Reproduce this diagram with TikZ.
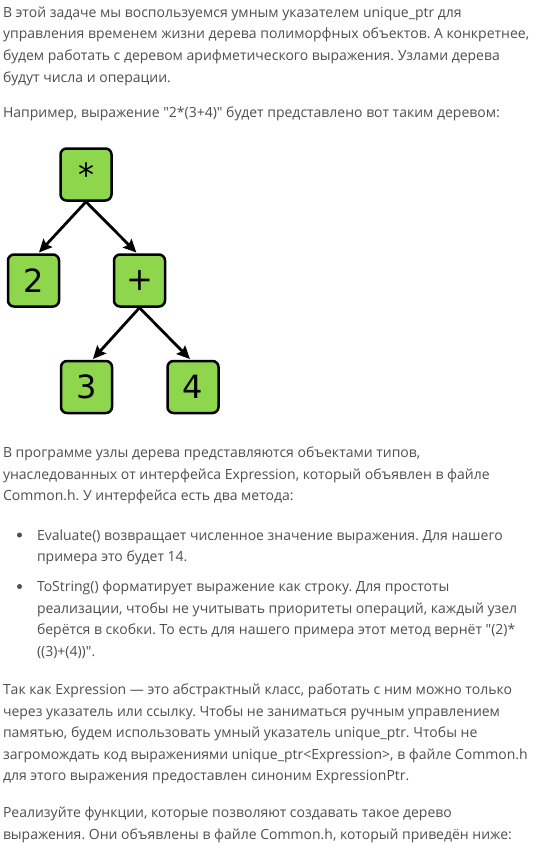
\documentclass[tikz,border=0pt]{standalone}
\usepackage{fontspec}
\setmainfont{Open Sans}[Ligatures=TeXOff]
\newfontfamily\boxfont{DejaVu Sans}
\usetikzlibrary{arrows.meta}
\definecolor{txt}{HTML}{4F4F4F}
\definecolor{leaf}{HTML}{8ED64B}
\frenchspacing
\tikzset{
  line/.style={anchor=base west, inner sep=0pt, outer sep=0pt, text=txt,
    font=\fontsize{14pt}{21.5pt}\selectfont\frenchspacing},
  treebox/.style={draw=black, line width=2.5pt, fill=leaf, rounded corners=6pt,
    minimum width=51pt, minimum height=52pt, inner sep=0pt,
    font=\boxfont\fontsize{32pt}{32pt}\selectfont, text=black},
  arr/.style={line width=2.8pt, -{Stealth[length=13pt,width=12pt,inset=2pt]}, shorten >=1pt},
  dot/.style={circle, fill=txt, inner sep=0pt, minimum size=5pt}
}
\begin{document}
\begin{tikzpicture}[x={(1pt,0)}, y={(0,-1pt)}]
\useasboundingbox (0,0) rectangle (540,851);
\fill[white] (0,0) rectangle (540,851);

% paragraph 1
\node[line] (p1a) at (3,17.5) {В этой задаче мы воспользуемся умным указателем unique\_ptr для};
\node[line] (p1b) at (3,39) {управления временем жизни дерева полиморфных объектов. А конкретнее,};
\node[line] (p1c) at (3,60.5) {будем работать с деревом арифметического выражения. Узлами дерева};
\node[line] (p1d) at (3,82) {будут числа и операции.};
% paragraph 2
\node[line] (p2a) at (3,117) {Например, выражение "2*(3+4)" будет представлено вот таким деревом:};

% tree
\node[treebox] (mul) at (86,174.5) {*};
\node[treebox] (two) at (33.5,280.5) {2};
\node[treebox] (plus) at (139.5,280.5) {+};
\node[treebox] (three) at (86.5,387) {3};
\node[treebox] (four) at (193,387) {4};
\draw[arr] (mul.south) -- (two.80);
\draw[arr] (mul.south) -- (plus.95);
\draw[arr] (plus.south) -- (three.78);
\draw[arr] (plus.south) -- (four.95);

% paragraph 3
\node[line] (p3a) at (3,457.5) {В программе узлы дерева представляются объектами типов,};
\node[line] (p3b) at (3,479) {унаследованных от интерфейса Expression, который объявлен в файле};
\node[line] (p3c) at (3,500.5) {Common.h. У интерфейса есть два метода:};

% bullets
\node[dot] (d1) at (19.5,535) {};
\node[line] (b1a) at (37,540) {Evaluate() возвращает численное значение выражения. Для нашего};
\node[line] (b1b) at (37,561.5) {примера это будет 14.};
\node[dot] (d2) at (19.5,586.5) {};
\node[line] (b2a) at (37,591.5) {ToString() форматирует выражение как строку. Для простоты};
\node[line] (b2b) at (37,613) {реализации, чтобы не учитывать приоритеты операций, каждый узел};
\node[line] (b2c) at (37,634.5) {берётся в скобки. То есть для нашего примера этот метод вернёт "(2)*};
\node[line] (b2d) at (37,656) {((3)+(4))".};

% paragraph 4
\node[line] (p4a) at (3,694.5) {Так как Expression — это абстрактный класс, работать с ним можно только};
\node[line] (p4b) at (3,716) {через указатель или ссылку. Чтобы не заниматься ручным управлением};
\node[line] (p4c) at (3,737.5) {памятью, будем использовать умный указатель unique\_ptr. Чтобы не};
\node[line] (p4d) at (3,759) {загромождать код выражениями unique\_ptr<Expression>, в файле Common.h};
\node[line] (p4e) at (3,780.5) {для этого выражения предоставлен синоним ExpressionPtr.};

% paragraph 5
\node[line] (p5a) at (3,817.5) {Реализуйте функции, которые позволяют создавать такое дерево};
\node[line] (p5b) at (3,839) {выражения. Они объявлены в файле Common.h, который приведён ниже:};
\end{tikzpicture}
\end{document}
